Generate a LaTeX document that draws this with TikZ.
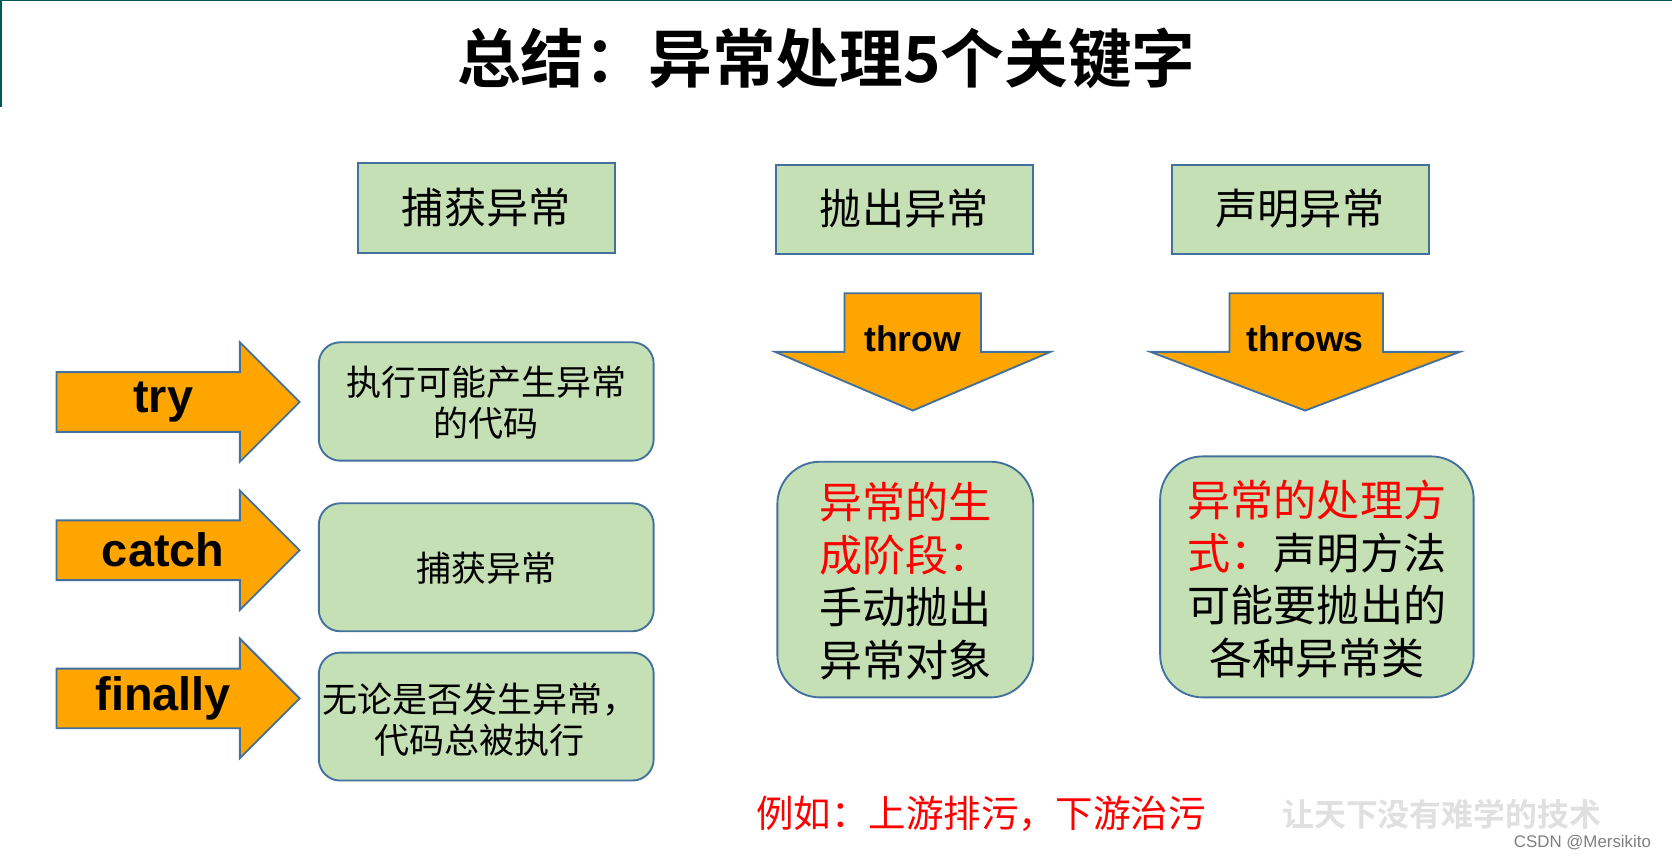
\documentclass[tikz,border=0pt]{standalone}
\usepackage{fontspec}
\setmainfont{Liberation Sans}
\newfontfamily\cjk{Noto Sans CJK SC}
\newfontfamily\cjkb{Noto Sans CJK SC Bold}
\definecolor{boxg}{HTML}{C5E0B4}
\definecolor{boxb}{HTML}{41719C}
\definecolor{orng}{HTML}{FFA500}
\begin{document}
\begin{tikzpicture}[x=0.02cm,y=-0.02cm,
  hdr/.style={draw=boxb,fill=boxg,line width=1pt},
  rbox/.style={draw=boxb,fill=boxg,line width=1pt,rounded corners=0.4cm},
  arr/.style={draw=boxb,fill=orng,line width=1pt},
  txt/.style={align=center,font=\cjk\fontsize{18.7}{22}\selectfont},
  htxt/.style={font=\cjk\fontsize{22.5}{26}\selectfont},
  btxt/.style={align=center,font=\cjk\fontsize{23}{28}\selectfont}]
\useasboundingbox (0,0) rectangle (1568,804);
\fill[white] (0,0) rectangle (1568,804);
\draw[teal!70!black,line width=1pt] (0,0.5) -- (1568,0.5);
\draw[teal!70!black,line width=1pt] (1,0) -- (1,100);
\node (title) at (775,55) {\cjkb\fontsize{34}{38}\selectfont 总结：异常处理5个关键字};
% headers
\draw[hdr] (336,153) rectangle (577,237);
\node[htxt] (h1) at (456,195) {捕获异常};
\draw[hdr] (728,155) rectangle (969,238);
\node[htxt] (h2) at (848,196) {抛出异常};
\draw[hdr] (1099,155) rectangle (1340,238);
\node[htxt] (h3) at (1219,196) {声明异常};
% right arrows
\foreach \c/\w/\n in {377/try/a1,516/catch/a2,655/finally/a3}{
  \draw[arr] (53,\c-28) -- (225,\c-28) -- (225,\c-56) -- (281,\c) -- (225,\c+56) -- (225,\c+28) -- (53,\c+28) -- cycle;
  \node[font=\bfseries\fontsize{25}{28}\selectfont] (\n) at (153,\c) {\w};
}
% left rounded boxes
\draw[rbox] (299,321) rectangle (613,432);
\node[txt] (b1) at (456,378) {执行可能产生异常\\的代码};
\draw[rbox] (299,472) rectangle (613,592);
\node[txt] (b2) at (456,533) {捕获异常};
\draw[rbox] (299,612) rectangle (613,732);
\node[txt] (b3) at (450,675) {无论是否发生异常，\\代码总被执行};
% down arrows
\draw[arr] (792,275) -- (920,275) -- (920,330) -- (985,330) -- (856,385) -- (727,330) -- (792,330) -- cycle;
\node[font=\bfseries\fontsize{19}{22}\selectfont] (t1) at (856,318) {throw};
\draw[arr] (1153,275) -- (1297,275) -- (1297,330) -- (1369,330) -- (1224,385) -- (1079,330) -- (1153,330) -- cycle;
\node[font=\bfseries\fontsize{19}{22}\selectfont] (t2) at (1224,318) {throws};
% right boxes
\draw[rbox,rounded corners=0.8cm] (729,433) rectangle (969,654);
\node[btxt] (c1) at (849,545) {\textcolor{red}{异常的生}\\\textcolor{red}{成阶段：}\\手动抛出\\异常对象};
\draw[rbox,rounded corners=0.8cm] (1088,428) rectangle (1382,654);
\node[btxt] (c2) at (1235,543) {\textcolor{red}{异常的处理方}\\\textcolor{red}{式：}声明方法\\可能要抛出的\\各种异常类};
\node[text=red,font=\cjk\fontsize{20}{24}\selectfont] (ex) at (920,763) {例如：上游排污，下游治污};
\node[text=black!12,font=\cjkb\fontsize{17}{20}\selectfont] (wm) at (1352,764) {让天下没有难学的技术};
\node[text=black!50,font=\fontsize{9}{11}\selectfont] (csdn) at (1484,790) {CSDN @Mersikito};
\end{tikzpicture}
\end{document}
